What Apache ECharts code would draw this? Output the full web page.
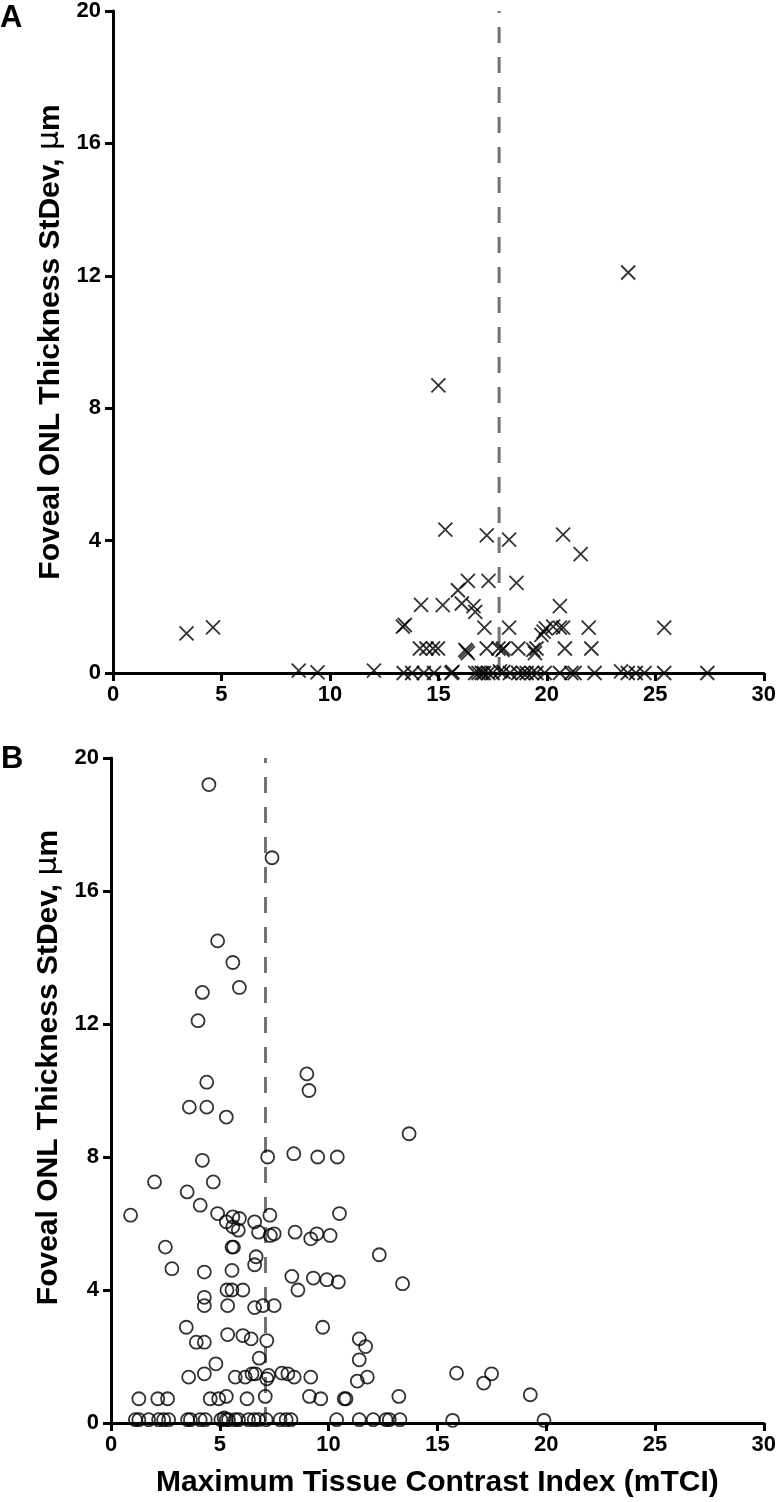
<!DOCTYPE html>
<html><head><meta charset="utf-8">
<script src="https://cdn.jsdelivr.net/npm/echarts@6/dist/echarts.min.js"></script>
<style>html,body{margin:0;padding:0;background:#fff}#c{width:779px;height:1502px}</style>
</head><body><div id="c"></div><script>
// ---- data ----
const xTicks = [0, 5, 10, 15, 20, 25, 30];
const yTicks = [0, 4, 8, 12, 16, 20];
const yTitle = 'Foveal ONL Thickness StDev, ';
const xTitle = 'Maximum Tissue Contrast Index (mTCI)';
const panelLabels = ['A', 'B'];
const cutoffA = 17.8;
const cutoffB = 7.1;

// Panel A (crosses)
const pointsA = [
  [3.39,1.2],[4.61,1.38],[8.56,0.07],[9.43,0.02],[12.03,0.07],
  [13.36,1.4],[13.45,1.45],[13.4,0],[13.79,0],[14.33,0],
  [14.2,2.06],[14.15,0.74],[14.45,0.74],[14.75,0.74],[14.98,0.74],
  [15.0,8.69],[15.32,4.33],[15.2,2.05],[15.9,2.5],[16.08,2.1],[16.62,2.02],[16.7,1.85],
  [16.36,2.78],[17.31,2.78],[18.6,2.72],
  [17.23,4.16],[18.26,4.03],[20.75,4.18],[21.56,3.59],[20.6,2.02],
  [17.12,1.37],[18.26,1.37],[19.75,1.15],[19.85,1.25],[19.95,1.35],[20.29,1.4],[20.6,1.37],[20.75,1.37],[21.93,1.37],[25.41,1.37],
  [16.24,0.7],[16.36,0.6],[16.3,0.65],[17.23,0.74],[17.77,0.74],[18.0,0.74],[17.95,0.7],[18.68,0.74],
  [19.37,0.7],[19.52,0.74],[19.45,0.6],[20.83,0.74],[22.05,0.74],
  [14.8,0],[15.6,0],[15.65,0.03],[16.7,0],[16.85,0],[17.0,0],[17.1,0],[17.3,0],[17.5,0],[17.84,0.05],[18.0,0.03],
  [18.3,0],[18.68,0],[18.9,0],[19.07,0],[19.3,0],[19.52,0],[19.9,0],[20.6,0],[21.13,0],[21.28,0],[22.2,0],
  [23.42,0.05],[23.73,0],[24.1,0],[24.5,0],[25.41,0],[27.4,0],
  [23.75,12.1]
];

// Panel B (circles)
const pointsB = [
  [4.5,19.2],[7.4,17.0],[4.9,14.5],[5.6,13.85],[4.2,12.95],[5.9,13.1],[4.0,12.1],
  [9.0,10.5],[4.4,10.25],[9.1,10.0],[3.6,9.5],[4.4,9.5],[5.3,9.2],[13.7,8.7],
  [8.4,8.1],[7.2,8.0],[9.5,8.0],[10.4,8.0],[4.2,7.9],[2.0,7.25],[4.7,7.25],[3.5,6.95],[4.1,6.55],
  [0.9,6.25],[4.9,6.3],[5.6,6.2],[5.9,6.15],[6.6,6.05],[7.3,6.25],[10.5,6.3],[5.3,6.05],
  [5.6,5.9],[5.85,5.8],[6.78,5.74],[7.32,5.64],[7.5,5.69],[8.46,5.74],[9.18,5.54],[9.46,5.69],[10.07,5.64],
  [2.5,5.29],[5.56,5.29],[5.63,5.29],[6.67,5.0],[12.33,5.06],
  [2.8,4.64],[4.29,4.54],[5.56,4.59],[6.6,4.76],
  [8.31,4.41],[8.59,4.0],[9.3,4.36],[9.92,4.31],[10.45,4.24],[13.4,4.19],
  [4.29,3.78],[4.29,3.53],[5.33,4.0],[5.56,4.0],[6.06,4.0],[5.36,3.53],[6.6,3.47],[6.98,3.53],[7.5,3.53],
  [3.46,2.88],[9.73,2.88],
  [3.92,2.43],[4.29,2.43],[5.36,2.66],[6.06,2.63],[6.44,2.53],[7.16,2.48],[11.41,2.53],[11.7,2.3],[11.41,1.9],[6.81,1.95],[4.82,1.78],
  [3.57,1.38],[4.29,1.48],[5.71,1.38],[6.17,1.38],[6.48,1.48],[6.63,1.48],[7.16,1.33],[7.24,1.43],[7.85,1.5],[8.13,1.48],[8.42,1.38],[9.18,1.38],[11.32,1.26],[11.78,1.38],
  [1.28,0.73],[2.15,0.73],[2.6,0.73],[4.56,0.73],[4.95,0.73],[5.3,0.8],[6.25,0.73],[7.09,0.8],[9.12,0.8],[9.64,0.73],[10.72,0.73],[10.8,0.73],[13.23,0.8],
  [1.12,0.1],[1.28,0.1],[1.73,0.1],[2.19,0.1],[2.42,0.1],[2.65,0.1],[3.52,0.1],[3.65,0.1],[4.1,0.1],[4.33,0.1],
  [5.05,0.1],[5.2,0.15],[5.3,0.1],[5.4,0.1],[5.71,0.1],[5.86,0.1],[6.32,0.1],[6.58,0.1],[6.78,0.1],[7.13,0.1],
  [7.77,0.1],[8.05,0.1],[8.27,0.1],[10.37,0.1],[11.41,0.1],[12.05,0.1],[12.64,0.1],[12.79,0.1],[13.28,0.1],
  [15.88,1.5],[17.13,1.2],[17.49,1.48],[19.27,0.85],[15.7,0.08],[19.9,0.08]
];

// ---- chart ----
const FONT = '"Liberation Sans", Arial, sans-serif';
const chart = echarts.init(document.getElementById('c'), null, {renderer: 'canvas'});

function xAxisCfg(idx, withName) {
  return {
    type: 'value', gridIndex: idx, min: xTicks[0], max: xTicks[xTicks.length - 1], interval: xTicks[1] - xTicks[0],
    axisLine: {onZero: false, lineStyle: {color: '#000', width: 3}},
    axisTick: {length: 8, lineStyle: {color: '#000', width: 3}},
    axisLabel: {color: '#000', fontWeight: 'bold', fontSize: 22, fontFamily: FONT, margin: 11},
    splitLine: {show: false},
    name: withName ? xTitle : '', nameLocation: 'middle', nameGap: 45,
    nameTextStyle: {color: '#000', fontWeight: 'bold', fontSize: 30, fontFamily: FONT}
  };
}
function yAxisCfg(idx, pad) {
  return {
    type: 'value', gridIndex: idx, min: yTicks[0], max: yTicks[yTicks.length - 1], interval: yTicks[1] - yTicks[0],
    axisLine: {onZero: false, lineStyle: {color: '#000', width: 3}},
    axisTick: {length: 8, lineStyle: {color: '#000', width: 3}},
    axisLabel: {color: '#000', fontWeight: 'bold', fontSize: 22, fontFamily: FONT, margin: 12},
    splitLine: {show: false},
    name: yTitle + '{mu|μ}m', nameLocation: 'middle', nameGap: 44,
    nameTextStyle: {color: '#000', fontWeight: 'bold', fontSize: 30, fontFamily: FONT, padding: pad,
      rich: {mu: {fontWeight: 'normal', fontSize: 30, fontFamily: '"DejaVu Sans", sans-serif', color: '#000'}}}
  };
}

const xPath = 'path://M0,0L10,10M10,0L0,10';

chart.setOption({
  animation: false,
  backgroundColor: '#fff',
  grid: [
    {left: 113, top: 10, width: 654, height: 663},
    {left: 111, top: 758, width: 653, height: 665}
  ],
  xAxis: [xAxisCfg(0, false), xAxisCfg(1, true)],
  yAxis: [yAxisCfg(0, [0, 0, 0, 0]), yAxisCfg(1, [0, 0, 0, 46])],
  graphic: [
    {type: 'text', left: 0, top: 3, style: {text: panelLabels[0], fontSize: 31, fontWeight: 'bold', fontFamily: FONT, fill: '#000'}},
    {type: 'text', left: 1, top: 744, style: {text: panelLabels[1], fontSize: 31, fontWeight: 'bold', fontFamily: FONT, fill: '#000'}}
  ],
  series: [
    {type: 'line', xAxisIndex: 0, yAxisIndex: 0, data: [[cutoffA, yTicks[0]], [cutoffA, yTicks[yTicks.length - 1]]],
      symbol: 'none', z: 1, lineStyle: {color: '#737373', width: 3, type: [16, 14]}},
    {type: 'line', xAxisIndex: 1, yAxisIndex: 1, data: [[cutoffB, yTicks[0]], [cutoffB, yTicks[yTicks.length - 1]]],
      symbol: 'none', z: 1, lineStyle: {color: '#737373', width: 3, type: [16, 14]}},
    {type: 'scatter', xAxisIndex: 0, yAxisIndex: 0, data: pointsA, symbol: xPath, symbolSize: 14, z: 3, clip: false,
      itemStyle: {color: 'rgba(0,0,0,0)', borderColor: '#000', borderWidth: 1.8}},
    {type: 'scatter', xAxisIndex: 1, yAxisIndex: 1, data: pointsB, symbol: 'circle', symbolSize: 13, z: 3, clip: false,
      itemStyle: {color: 'rgba(0,0,0,0)', borderColor: '#000', borderWidth: 1.8}}
  ]
});
</script></body></html>
